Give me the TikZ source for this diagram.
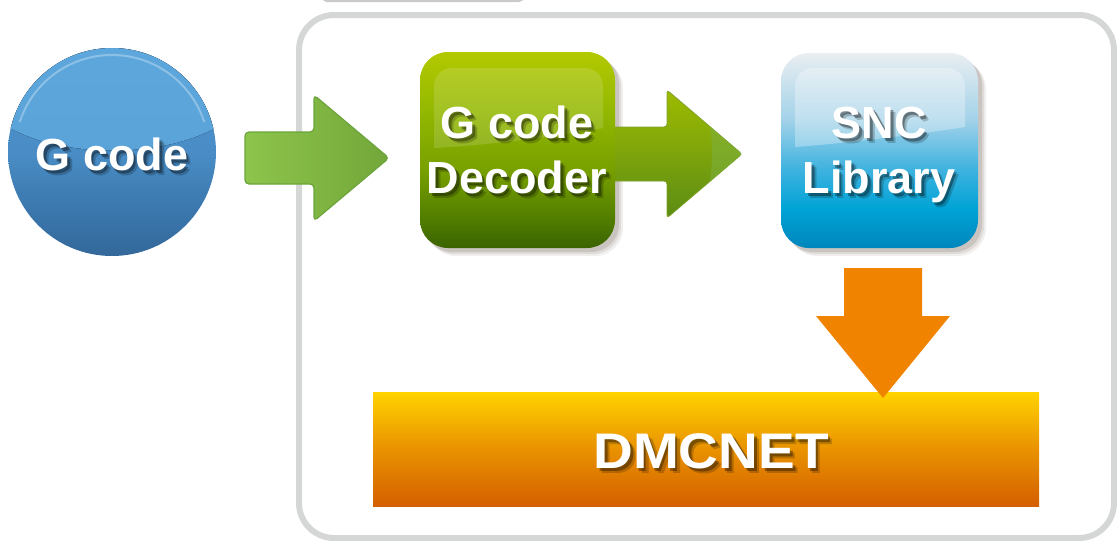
\documentclass[tikz,border=0pt]{standalone}
\usepackage{fontspec}
\setmainfont{Liberation Sans}
\usetikzlibrary{calc}
\definecolor{framegray}{HTML}{D5D7D7}
\definecolor{tabgray}{HTML}{C9CACA}
\definecolor{shadowc}{HTML}{8C7E75}
\definecolor{orangeA}{HTML}{F08300}
\definecolor{greenStroke}{HTML}{6CA43C}
\definecolor{arrEdge}{HTML}{7FA22A}
\definecolor{arrL}{HTML}{8DC44B}
\definecolor{arrR}{HTML}{73A73A}
\definecolor{arrBand}{HTML}{7DB040}
\definecolor{hlBlue}{HTML}{5AA3D9}
\definecolor{hlBlueT}{HTML}{5EA7DC}
% circle stops
\definecolor{cA}{HTML}{33689A}\definecolor{cB}{HTML}{3E7DB3}\definecolor{cC}{HTML}{4A8DC6}\definecolor{cE}{HTML}{4F94CC}
% decoder stops
\definecolor{dA}{HTML}{3A6300}\definecolor{dB}{HTML}{4F7C00}\definecolor{dC}{HTML}{78A000}\definecolor{dD}{HTML}{93B800}\definecolor{dE}{HTML}{B3C900}
% snc stops
\definecolor{sA}{HTML}{0086BC}\definecolor{sB}{HTML}{00A3D6}\definecolor{sC}{HTML}{3DB2DF}\definecolor{sD}{HTML}{A3D2E9}\definecolor{sE}{HTML}{E9EEF1}
% bar stops
\definecolor{bA}{HTML}{D45F00}\definecolor{bB}{HTML}{E99200}\definecolor{bC}{HTML}{FFD300}
% arrow 2 stops
\definecolor{gA}{HTML}{5B8C14}\definecolor{gB}{HTML}{7DA40C}\definecolor{gC}{HTML}{9EBB00}
\pgfdeclareverticalshading{circsh}{100bp}{color(0bp)=(cA); color(25bp)=(cA); color(40bp)=(cB); color(50bp)=(cC); color(75bp)=(cE); color(100bp)=(cE)}
\pgfdeclareverticalshading{decsh}{100bp}{color(0bp)=(dA); color(25bp)=(dA); color(32bp)=(dB); color(45bp)=(dC); color(60bp)=(dD); color(75bp)=(dE); color(100bp)=(dE)}
\pgfdeclareverticalshading{sncsh}{100bp}{color(0bp)=(sA); color(25bp)=(sA); color(35bp)=(sB); color(45bp)=(sC); color(58bp)=(sD); color(75bp)=(sE); color(100bp)=(sE)}
\pgfdeclareverticalshading{barsh}{100bp}{color(0bp)=(bA); color(25bp)=(bA); color(50bp)=(bB); color(75bp)=(bC); color(100bp)=(bC)}
\pgfdeclareverticalshading{arrsh}{100bp}{color(0bp)=(gA); color(25bp)=(gA); color(50bp)=(gB); color(75bp)=(gC); color(100bp)=(gC)}
% fat horizontal arrow: #1 style, #2 start, #3 tip, #4 shaft half height, #5 head half height, #6 head length
\newcommand\fatarrowh[6]{%
  \path[#1] ($(#2)+(0,-#4)$) -- ($(#3)+(-#6,-#4)$) -- ($(#3)+(-#6,-#5)$) -- (#3)
    -- ($(#3)+(-#6,#5)$) -- ($(#3)+(-#6,#4)$) -- ($(#2)+(0,#4)$) -- cycle;}
% fat vertical arrow (pointing down)
\newcommand\fatarrowv[6]{%
  \path[#1] ($(#2)+(-#4,0)$) -- ($(#3)+(-#4,-#6)$) -- ($(#3)+(-#5,-#6)$) -- (#3)
    -- ($(#3)+(#5,-#6)$) -- ($(#3)+(#4,-#6)$) -- ($(#2)+(#4,0)$) -- cycle;}
% white text with a soft drop shadow, in one node
\newcommand\shtext[1]{%
  \rlap{\kern4.5pt\raisebox{-5pt}{\pgfsetfillopacity{0.2}\color{black}#1}}%
  \rlap{\kern2.5pt\raisebox{-3pt}{\pgfsetfillopacity{0.35}\color{black}#1}}%
  \pgfsetfillopacity{1}#1}
\tikzset{
  lbl/.style={text=white, font=\fontsize{45}{54}\selectfont\bfseries, anchor=base, inner sep=0pt},
  biglbl/.style={text=white, font=\fontsize{50}{60}\selectfont\bfseries, anchor=base, inner sep=0pt, xscale=1.1},
  boxshadow/.style={fill=shadowc, rounded corners=28},
}
\begin{document}
\begin{tikzpicture}[x=1pt,y=-1pt]
\useasboundingbox (0,0) rectangle (1117,541);
% top tab
\draw[tabgray, line width=2, rounded corners=4] (323,-30) rectangle (523,1);
% frame
\node[draw=framegray, line width=6, rounded corners=35, minimum width=815, minimum height=523, inner sep=0] (frame) at (706.5,276.5) {};

% G code circle
\node[circle, inner sep=0, minimum size=208, shading=circsh] (gc) at (112,152) {};
\begin{scope}
  \clip (gc.center) circle[radius=104];
  \fill[top color=hlBlueT, bottom color=hlBlue] (0,122) .. controls (55,160) and (170,160) .. (225,122) -- (225,40) -- (0,40) -- cycle;
\end{scope}
\draw[white, opacity=0.3, line width=2] ($(gc.center)+(198:97)$) arc[start angle=198, end angle=342, radius=97];
\node[lbl] (gctxt) at (112,170) {\shtext{G code}};

% box shadows
\foreach \o/\a in {8/0.12,6/0.18,4/0.25}{
  \fill[boxshadow, opacity=\a] (420+\o,52+\o) rectangle (615+\o,248+\o);
  \fill[boxshadow, opacity=\a] (781+\o,53+\o) rectangle (978+\o,248+\o);
}
% arrow 2 (behind decoder edge)
\coordinate (a2s) at (600,154);
\coordinate (a2t) at (742,154);
\fatarrowh{fill=shadowc, opacity=0.3, rounded corners=3, shift={(3,4)}}{a2s}{a2t}{27}{64}{75}
\fatarrowh{shading=arrsh, rounded corners=3, draw=arrEdge, line width=0.8}{a2s}{a2t}{27}{64}{75}
\begin{scope}
  \clip (667,90) -- (742,154) -- (667,218) -- cycle;
  \fill[arrBand, opacity=0.55] (700,88) .. controls (716,130) and (716,178) .. (700,220) -- (750,220) -- (750,88) -- cycle;
\end{scope}

% G code Decoder
\node[rounded corners=28, minimum width=195, minimum height=196, inner sep=0, shading=decsh] (dec) at (517.5,150) {};
\fill[white, opacity=0.14] (434,148) [rounded corners=18]-- (434,68) -- (603,68) [sharp corners]-- (603,128) .. controls (560,136) and (490,145) .. (434,148) -- cycle;
\node[lbl] (dec1) at (517,138) {\shtext{G code}};
\node[lbl] (dec2) at (517,193) {\shtext{Decoder}};

% SNC Library
\node[rounded corners=28, minimum width=197, minimum height=195, inner sep=0, shading=sncsh] (snc) at (879.5,150.5) {};
\fill[white, opacity=0.3] (795,147) [rounded corners=18]-- (795,68) -- (965,68) [sharp corners]-- (965,127) .. controls (920,134) and (850,143) .. (795,147) -- cycle;
\node[lbl] (snc1) at (879,138) {\shtext{SNC}};
\node[lbl] (snc2) at (879,193) {\shtext{Library}};

% arrow 1
\coordinate (a1s) at (245,158);
\coordinate (a1t) at (389,158);
\fatarrowh{left color=arrL, right color=arrR, rounded corners=4, draw=greenStroke, line width=1.2}{a1s}{a1t}{26}{63}{75}

% DMCNET bar
\node[rectangle, inner sep=0, minimum width=666, minimum height=114, shading=barsh] (dmc) at (706,449) {};
\node[biglbl] (dmctxt) at (711,468) {\shtext{DMCNET}};

% orange arrow
\coordinate (a3s) at (883,268);
\coordinate (a3t) at (883,398);
\fatarrowv{fill=orangeA}{a3s}{a3t}{39}{67}{82}
\end{tikzpicture}
\end{document}
